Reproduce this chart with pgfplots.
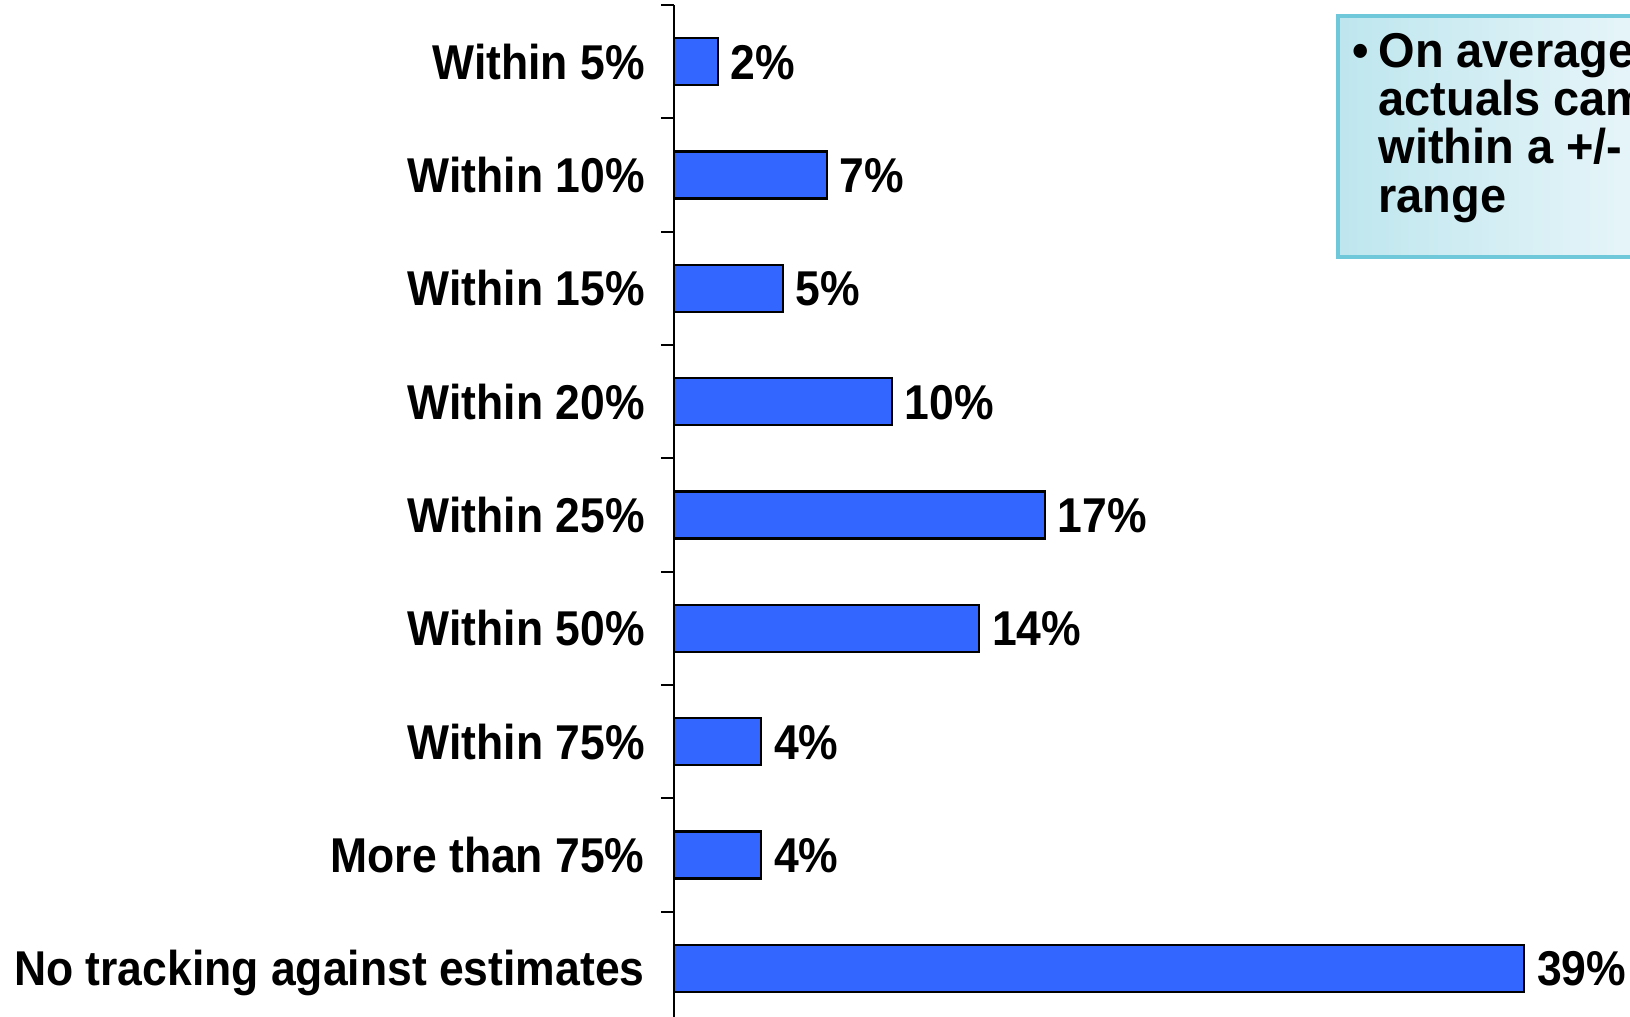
\documentclass[border=0pt]{standalone}
\usepackage{pgfplots}
\pgfplotsset{compat=1.18}
\usepackage{fontspec}
\setmainfont{Liberation Sans}[FakeStretch=0.91]
\newfontfamily\boxfont{Liberation Sans}[FakeStretch=0.96]
\definecolor{barblue}{RGB}{51,102,255}
\definecolor{boxedge}{RGB}{110,200,218}
\definecolor{boxleft}{RGB}{190,230,238}
\definecolor{boxright}{RGB}{242,249,252}
\newcommand\lblfont{\fontsize{17.6}{21}\selectfont\bfseries}
\newcommand\bxfont{\boxfont\fontsize{17.6}{21}\selectfont\bfseries}

\begin{document}
\lblfont
\begin{tikzpicture}
\begin{axis}[
  at={(242.64pt,-1.8pt)}, anchor=north west,
  scale only axis, width=344.16pt, height=367.2pt,
  xbar, bar width=16.9pt,
  xmin=0, xmax=43.85,
  ymin=-0.5, ymax=8.5, y dir=reverse,
  axis x line=none, axis y line*=left,
  axis line style={line width=0.7pt, black},
  ytick={0,...,8},
  yticklabels={Within 5\%,Within 10\%,Within 15\%,Within 20\%,Within 25\%,Within 50\%,Within 75\%,More than 75\%,No tracking against estimates},
  minor ytick={-0.5,0.5,...,8.5},
  major tick length=0pt, minor tick length=4.7pt,
  tick align=outside,
  minor tick style={line width=0.7pt, black},
  yticklabel style={anchor=base east, inner sep=0pt, xshift=-10.4pt, yshift=-6.3pt, font=\lblfont},
  /pgf/number format/assume math mode=true,
  point meta=x,
  nodes near coords={\pgfmathprintnumber{\pgfplotspointmeta}\%},
  every node near coord/.append style={anchor=base west, inner sep=0pt, xshift=4.3pt, yshift=-6.3pt, font=\lblfont, black},
  clip=false,
]
\addplot[fill=barblue, draw=black, line width=0.75pt] coordinates {(2,0) (7,1) (5,2) (10,3) (17,4) (14,5) (4,6) (4,7) (39,8)};
\end{axis}
\begin{scope}[x=0.36pt, y=-0.36pt]
  \draw[left color=boxleft, right color=boxright, draw=boxedge, line width=1.1pt] (1338,16) rectangle (1720,257);
  \node[anchor=base west, inner sep=0pt, font=\bxfont] at (1352,68) {•};
  \node[anchor=base west, inner sep=0pt, font=\bxfont] at (1378,68) {On average};
  \node[anchor=base west, inner sep=0pt, font=\bxfont] at (1378,116) {actuals came};
  \node[anchor=base west, inner sep=0pt, font=\bxfont] at (1378,164) {within a +/-};
  \node[anchor=base west, inner sep=0pt, font=\bxfont] at (1378,213) {range};
\end{scope}
\pgfresetboundingbox
\path[use as bounding box] (0,0) rectangle (586.8pt,-366.12pt);
\end{tikzpicture}
\end{document}
